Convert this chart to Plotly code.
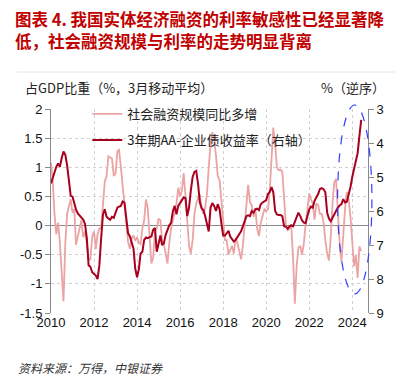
import pandas as pd
import plotly.graph_objects as go

# ---------------- data ----------------
start_month = "2010-01-01"
n_months = 174

tsf_yoy = [
    1.08, 0.75, 0.2, -0.15, 0.05, -0.3, -0.8, -1.3, -0.3, 0.2, 0.33, 0.45,
    0.22, 0.28, -0.33, -0.2, -0.05, 0.09, -0.2, -0.1, -0.3, -0.58, -0.58, -0.2,
    -0.1, -0.4, -0.15, -0.05, -0.05, 0.35, 0.75, 0.85, 1.19, 1.17, 1.15, 0.85,
    0.9, 1.28, 1.3, 1.0, 0.68, 0.28, 0.03, -0.28, -0.4, -0.22, -0.17, -0.26,
    -0.2, -0.3, -0.32, -0.05, 0.09, 0.45, 0.3, -0.15, -0.65, -0.55, -0.1, -0.05,
    0.12, 0.09, -0.26, -0.32, -0.5, -0.65, -0.3, -0.05, 0.09, 0.22, 0.38, 0.65,
    0.5, 0.6, 0.9, 0.52, 0.1, -0.35, -0.48, -0.25, 0.2, 0.38, 0.47, 0.54,
    0.3, 0.2, 0.3, 0.55, 1.0, 1.4, 1.6, 1.48, 1.2, 0.85, 0.78, 0.45,
    0.1, -0.25, -0.25, -0.5, -0.42, -0.35, -0.48, -0.22, -0.3, -0.45, -0.58, -0.35,
    -0.03, 0.3, 0.7, 0.4, 0.35, 0.15, 0.3, -0.05, -0.18, 0.05, 0.18, 0.28,
    0.25, 0.28, 0.6, 1.25, 1.68, 1.38, 1.0, 0.95, 0.96, 0.92, 0.45, 0.0,
    -0.08, -0.05, 0.0, -0.55, -1.34, -0.7, -0.38, -0.35, -0.5, -0.31, 0.03, 0.28,
    0.55, 0.45, 0.38, 0.1, 0.38, 0.35, 0.2, 0.2, 0.05, -0.25, -0.48, -0.6,
    -0.2, 0.4, 0.74, 0.8, 0.15, -0.3, -0.62, -0.15, 0.3, 0.58, 0.45, 0.15,
    -0.35, -0.7, -0.5, -0.9, -0.36, -0.44,
]

aa_yield_3y = [
    5.19, 5.0, 4.85, 4.7, 4.6, 4.7, 4.45, 4.25, 4.35, 4.65, 5.1, 5.55,
    5.58, 5.8, 5.95, 6.07, 6.12, 6.17, 6.25, 6.38, 6.8, 7.6, 7.64, 7.8,
    7.85, 7.9, 8.0, 7.6, 6.8, 6.1, 5.95, 6.17, 6.22, 6.26, 6.17, 6.2,
    6.05, 5.9, 5.87, 5.85, 5.72, 5.75, 6.2, 6.65, 6.75, 6.9, 7.1, 7.7,
    7.95, 7.7, 7.25, 7.2, 6.85, 6.78, 6.8, 6.77, 6.75, 6.55, 6.5, 7.2,
    7.0, 6.72, 7.0, 6.95, 6.7, 6.55, 6.42, 6.35, 6.0, 5.85, 6.1, 5.85,
    5.78, 5.68, 5.6, 5.62, 6.15, 5.9, 5.4, 5.0, 4.85, 4.82, 5.2, 5.75,
    5.92, 5.98, 6.15, 6.35, 6.6, 5.9, 5.77, 5.85, 6.0, 5.8, 5.95, 6.35,
    6.72, 6.72, 6.65, 6.58, 6.75, 6.85, 6.9, 6.85, 6.76, 6.68, 6.6, 6.45,
    6.26, 6.15, 6.13, 6.15, 6.0, 6.05, 5.95, 5.93, 5.97, 5.8, 5.75, 5.72,
    5.68, 5.5, 5.44, 5.3, 5.45, 6.0, 6.1, 6.12, 6.12, 6.15, 6.45, 6.46,
    6.52, 6.45, 6.42, 6.45, 6.32, 6.2, 6.05, 6.15, 6.28, 6.34, 6.36, 6.15,
    5.95, 5.87, 5.9, 5.7, 5.6, 5.5, 5.35, 5.33, 5.36, 5.45, 6.05, 6.22,
    6.3, 6.2, 6.07, 5.98, 5.9, 5.84, 5.8, 5.65, 5.75, 5.73, 5.55, 5.3,
    5.0, 4.75, 4.55, 4.3, 3.8, 3.32,
]

series_names = ["社会融资规模同比多增", "3年期AA-企业债收益率（右轴）"]
x_tick_years = ["2010", "2012", "2014", "2016", "2018", "2020", "2022", "2024"]
left_ticks = [-1.5, -1, -0.5, 0, 0.5, 1, 1.5, 2]
right_ticks = [3, 4, 5, 6, 7, 8, 9]

title_lines = ["图表 4. 我国实体经济融资的利率敏感性已经显著降",
               "低，社会融资规模与利率的走势明显背离"]
left_axis_title = "占GDP比重（%，3月移动平均）"
right_axis_title = "%（逆序）"
source_text = "资料来源：万得，中银证券"

# ---------------- figure ----------------
dates = pd.date_range(start_month, periods=n_months, freq="MS")

PAGE_W, PAGE_H = 406, 379
OFF = 8  # default body margin of the html page
W, H = PAGE_W - OFF, PAGE_H - OFF
L, R, T, B = 45, 368, 109, 313  # plot area in page pixels


def px(xp):
    return (xp - L) / (R - L)


def py(yp):
    return 1 - (yp - T) / (B - T)


CJK = "Noto Sans CJK SC, Liberation Sans, Arial, sans-serif"
LAT = "Liberation Sans, Arial, sans-serif"

fig = go.Figure()
fig.add_trace(go.Scatter(
    x=dates, y=tsf_yoy, name=series_names[0], mode="lines",
    line=dict(color="#EBA3A3", width=1.8), legend="legend",
))
fig.add_trace(go.Scatter(
    x=dates, y=aa_yield_3y, name=series_names[1], mode="lines",
    line=dict(color="#A8001F", width=2), yaxis="y2", legend="legend2",
))

fig.update_layout(
    width=W, height=H,
    margin=dict(l=L - OFF, r=PAGE_W - R, t=T - OFF, b=PAGE_H - B, pad=0),
    paper_bgcolor="white", plot_bgcolor="white",
    showlegend=True,
    font=dict(family=CJK, size=13, color="#222"),
    xaxis=dict(
        type="date",
        range=["2010-01-01", "2024-09-24"],
        tickvals=[f"{y}-01-01" for y in x_tick_years],
        ticktext=x_tick_years,
        showgrid=True, gridcolor="#D0D0D0", griddash="dot", gridwidth=1,
        showline=False, ticks="", zeroline=False,
        tickfont=dict(family=LAT, size=13, color="#111"),
    ),
    yaxis=dict(
        range=[-1.5, 2],
        tickvals=left_ticks,
        ticktext=[f"{v:g}" for v in left_ticks],
        showgrid=True, gridcolor="#D0D0D0", griddash="dot", gridwidth=1,
        zeroline=True, zerolinecolor="#8A8A8A", zerolinewidth=1.2,
        showline=True, linecolor="#8A8A8A", linewidth=1,
        ticks="outside", ticklen=5, tickcolor="#8A8A8A",
        tickfont=dict(family=LAT, size=13, color="#111"),
    ),
    yaxis2=dict(
        range=[9, 3], overlaying="y", side="right",
        tickvals=right_ticks,
        ticktext=[str(v) for v in right_ticks],
        showgrid=False, zeroline=False,
        showline=True, linecolor="#8A8A8A", linewidth=1,
        ticks="outside", ticklen=5, tickcolor="#8A8A8A",
        tickfont=dict(family=LAT, size=13, color="#111"),
    ),
    legend=dict(
        x=px(82), y=py(114), xanchor="left", yanchor="middle",
        bgcolor="rgba(0,0,0,0)", font=dict(family=CJK, size=13, color="#222"),
        itemwidth=30,
    ),
    legend2=dict(
        x=px(82), y=py(140), xanchor="left", yanchor="middle",
        bgcolor="rgba(0,0,0,0)", font=dict(family=CJK, size=13, color="#222"),
        itemwidth=30,
    ),
)

# title (two separate lines, kept apart)
for i, line in enumerate(title_lines):
    fig.add_annotation(
        text=f"<b>{line}</b>", xref="paper", yref="paper",
        x=px(7), y=py(19 + 22 * i), xanchor="left", yanchor="middle",
        showarrow=False, borderpad=0,
        font=dict(family=CJK, size=16.5, color="#C00000"),
    )

# separator line under title
fig.add_shape(type="line", xref="paper", yref="paper",
              x0=px(10), x1=px(396), y0=py(72), y1=py(72),
              line=dict(color="#E6E6E6", width=1))

# axis titles
fig.add_annotation(text=left_axis_title, xref="paper", yref="paper",
                   x=px(16), y=py(88), xanchor="left", yanchor="middle",
                   showarrow=False, font=dict(family=CJK, size=13, color="#222"))
fig.add_annotation(text=right_axis_title, xref="paper", yref="paper",
                   x=px(318), y=py(88), xanchor="left", yanchor="middle",
                   showarrow=False, font=dict(family=CJK, size=13, color="#222"))

# source
fig.add_annotation(text=f"<i>{source_text}</i>", xref="paper", yref="paper",
                   x=px(9), y=py(367), xanchor="left", yanchor="middle",
                   showarrow=False, font=dict(family=CJK, size=12, color="#333"))

# dashed ellipse highlighting recent divergence
fig.add_shape(type="circle", xref="paper", yref="paper",
              x0=px(337), x1=px(372), y0=py(294), y1=py(105),
              line=dict(color="#3040FF", width=1.2, dash="dash"))

fig.write_html("out.html")
